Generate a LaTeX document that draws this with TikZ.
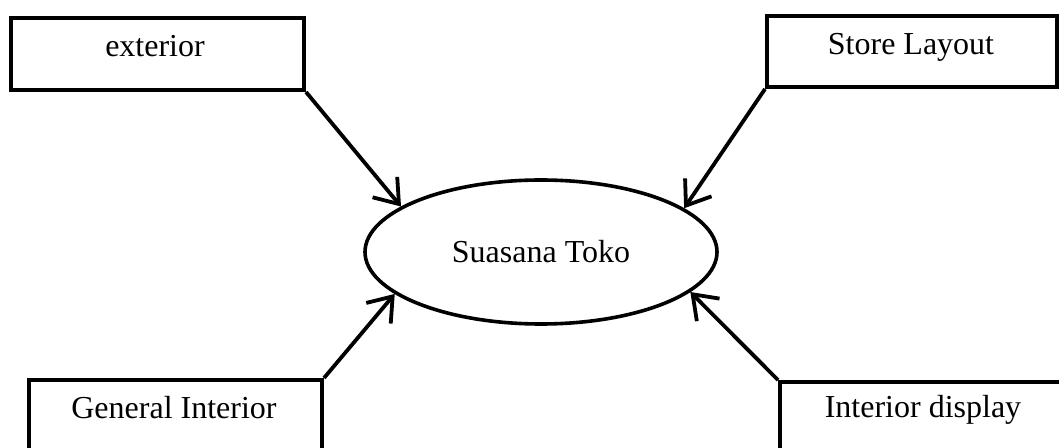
\documentclass[tikz,border=0pt]{standalone}
\usepackage{fontspec}
\setmainfont{Liberation Serif}
\usetikzlibrary{shapes.geometric,arrows.meta}
\begin{document}
\begin{tikzpicture}[x=1pt,y=1pt,
  every node/.style={font=\fontsize{32}{38}\selectfont},
  factor/.style={draw, line width=4pt, rectangle, inner sep=0pt, anchor=north west},
  caption/.style={anchor=base, inner sep=0pt},
  core/.style={draw, line width=3.6pt, ellipse, inner sep=0pt, minimum width=352pt, minimum height=144pt},
  link/.style={line width=3.8pt, -{Straight Barb[length=22pt,width=32pt,line width=3.8pt]}}]
\useasboundingbox (0,0) rectangle (1059,447);
\clip (0,0) rectangle (1059,447);
% four factor boxes (the lower two run past the page edge)
\node[factor, minimum width=293pt, minimum height=72pt] (ext) at (9,431) {};
\node[factor, minimum width=290pt, minimum height=71pt] (lay) at (765,433) {};
\node[factor, minimum width=293pt, minimum height=140pt] (gen) at (27,69) {};
\node[factor, minimum width=320pt, minimum height=140pt] (dis) at (778,67) {};
% box captions
\node[caption] (extT) at (155,390) {exterior};
\node[caption] (layT) at (911,392) {Store Layout};
\node[caption] (genT) at (174,29) {General Interior};
\node[caption] (disT) at (923,30) {Interior display};
% central concept
\node[core] (toko) at (541,195) {Suasana Toko};
% arrows into the ellipse
\draw[link] (ext.south east) -- (toko.162);
\draw[link] (lay.south west) -- (toko.17);
\draw[link] (gen.north east) -- (toko.196);
\draw[link] (dis.north west) -- (toko.345);
\end{tikzpicture}
\end{document}
